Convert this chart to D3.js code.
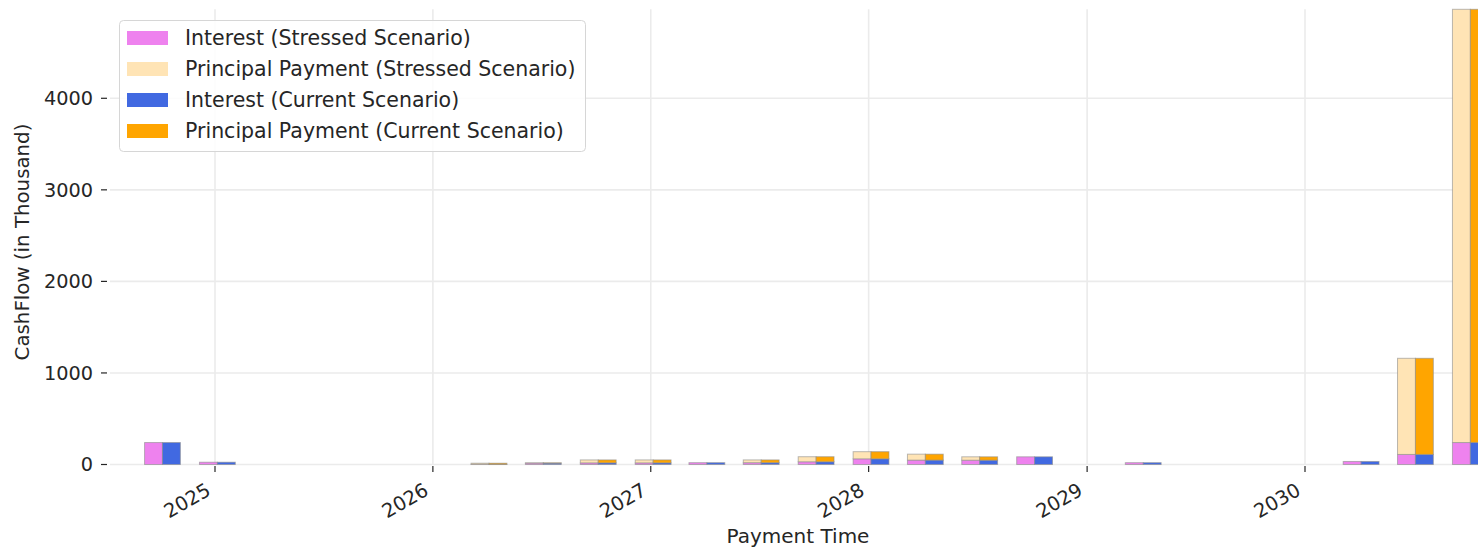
<!DOCTYPE html>
<html>
<head>
<meta charset="utf-8">
<script src="https://cdn.jsdelivr.net/npm/d3@7"></script>
<style>
  body { margin: 0; background: #fff; }
  text { font-family: "DejaVu Sans", sans-serif; fill: #262626; }
</style>
</head>
<body>
<script>
// payment dates (quarterly, only the ones with a cashflow)
const payDates = ["2024-10-05", "2025-01-05", "2026-04-05", "2026-07-05", "2026-10-05",
  "2027-01-05", "2027-04-05", "2027-07-05", "2027-10-05", "2028-01-05", "2028-04-05",
  "2028-07-05", "2028-10-05", "2029-04-05", "2030-04-05", "2030-07-05", "2030-10-05"];

// values in thousand
const interestStressed = [240, 25, 2, 15, 18, 18, 20, 20, 30, 62, 48, 47, 84, 20, 33, 110, 240];
const principalStressed = [0, 0, 12, 3, 32, 32, 0, 30, 55, 78, 65, 37, 0, 0, 0, 1050, 4732];
const interestCurrent = [240, 25, 2, 15, 18, 18, 20, 20, 30, 62, 48, 47, 84, 20, 33, 110, 240];
const principalCurrent = [0, 0, 12, 3, 32, 32, 0, 30, 55, 78, 65, 37, 0, 0, 0, 1050, 4732];

const yTicks = [0, 1000, 2000, 3000, 4000];
const xTickYears = ["2025", "2026", "2027", "2028", "2029", "2030"];
const legendLabels = ["Interest (Stressed Scenario)", "Principal Payment (Stressed Scenario)",
  "Interest (Current Scenario)", "Principal Payment (Current Scenario)"];
const colors = ["violet", "moccasin", "royalblue", "orange"];

const W = 1478, H = 548;
const plotLeft = 110, plotTop = 9.3, plotBottom = 464.5;

var svg = d3.select("body").append("svg").attr("width", W).attr("height", H);

const parse = d3.timeParse("%Y-%m-%d");
const dates = payDates.map(parse);

// x: time scale, year ticks at 215 .. 1305
var x = d3.scaleTime()
  .domain([new Date(2025, 0, 1), new Date(2030, 0, 1)])
  .range([215, 1305]);

const yMax = d3.max(dates.map((d, i) => interestStressed[i] + principalStressed[i]));
var y = d3.scaleLinear().domain([0, yMax]).range([plotBottom, plotTop]);

// grid
svg.append("g").selectAll("line").data(yTicks).join("line")
  .attr("x1", plotLeft).attr("x2", W).attr("y1", d => y(d)).attr("y2", d => y(d))
  .attr("stroke", "#ebebeb").attr("stroke-width", 1.6);

const yearDates = xTickYears.map(s => new Date(+s, 0, 1));
svg.append("g").selectAll("line").data(yearDates).join("line")
  .attr("x1", d => x(d)).attr("x2", d => x(d)).attr("y1", plotTop).attr("y2", plotBottom)
  .attr("stroke", "#ebebeb").attr("stroke-width", 1.6);

// bars: stressed to the left of the date, current to the right, each 30 days wide
const barDays = 30;
function addBars(interest, principal, side, cInt, cPrin) {
  let g = svg.append("g");
  dates.forEach((d, i) => {
    let x0 = side < 0 ? d3.timeDay.offset(d, -barDays) : d;
    let x1 = side < 0 ? d : d3.timeDay.offset(d, barDays);
    let parts = [[0, interest[i], cInt], [interest[i], interest[i] + principal[i], cPrin]];
    parts.forEach(p => {
      if (p[1] - p[0] <= 0) return;
      g.append("rect")
        .attr("x", x(x0)).attr("width", x(x1) - x(x0))
        .attr("y", y(p[1])).attr("height", y(p[0]) - y(p[1]))
        .attr("fill", p[2])
        .attr("stroke", "#8c8c8c").attr("stroke-opacity", 0.6).attr("stroke-width", 1);
    });
  });
}
addBars(interestStressed, principalStressed, -1, colors[0], colors[1]);
addBars(interestCurrent, principalCurrent, 1, colors[2], colors[3]);

// y axis ticks + labels
var yAx = svg.append("g");
yTicks.forEach(t => {
  yAx.append("line").attr("x1", 101).attr("x2", 107).attr("y1", y(t)).attr("y2", y(t))
    .attr("stroke", "#262626").attr("stroke-width", 1.2);
  yAx.append("text").attr("x", 93).attr("y", y(t)).attr("dy", "0.35em")
    .attr("text-anchor", "end").attr("font-size", 19.3).text(t);
});

// x axis ticks + rotated labels
var xAx = svg.append("g");
yearDates.forEach((d, i) => {
  xAx.append("line").attr("x1", x(d)).attr("x2", x(d)).attr("y1", 466).attr("y2", 472)
    .attr("stroke", "#262626").attr("stroke-width", 1.2);
  xAx.append("text")
    .attr("transform", `translate(${x(d) - 3},${494}) rotate(-30)`)
    .attr("text-anchor", "end").attr("font-size", 19.5)
    .text(xTickYears[i]);
});

svg.append("text").attr("x", 798).attr("y", 543).attr("text-anchor", "middle")
  .attr("font-size", 20).text("Payment Time");
svg.append("text").attr("transform", "translate(29,242) rotate(-90)")
  .attr("text-anchor", "middle").attr("font-size", 19.8).text("CashFlow (in Thousand)");

// legend
var lg = svg.append("g");
lg.append("rect").attr("x", 119.5).attr("y", 20.5).attr("width", 466).attr("height", 131)
  .attr("rx", 4).attr("fill", "white").attr("fill-opacity", 0.85)
  .attr("stroke", "#d6d6d6").attr("stroke-width", 1);
legendLabels.forEach((lab, i) => {
  let cy = 38 + i * 31;
  lg.append("rect").attr("x", 127).attr("y", cy - 7).attr("width", 41).attr("height", 14)
    .attr("fill", colors[i]);
  lg.append("text").attr("x", 185).attr("y", cy).attr("dy", "0.35em")
    .attr("font-size", 20.5).text(lab);
});
</script>
</body>
</html>
